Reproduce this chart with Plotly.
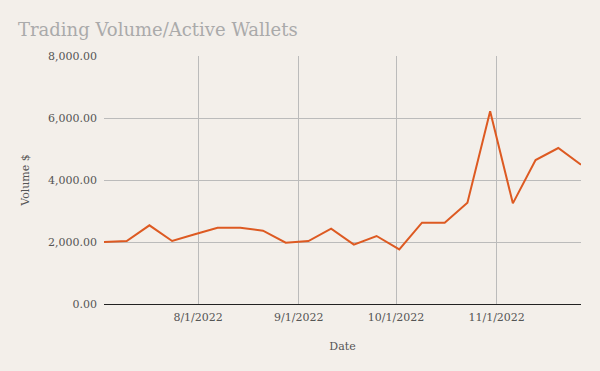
import plotly.graph_objects as go

dates = ["2022-07-03", "2022-07-10", "2022-07-17", "2022-07-24", "2022-07-31",
         "2022-08-07", "2022-08-14", "2022-08-21", "2022-08-28", "2022-09-04",
         "2022-09-11", "2022-09-18", "2022-09-25", "2022-10-02", "2022-10-09",
         "2022-10-16", "2022-10-23", "2022-10-30", "2022-11-06", "2022-11-13",
         "2022-11-20", "2022-11-27"]
volume = [2000, 2032, 2538, 2032, 2250, 2462, 2462, 2366, 1978, 2032,
          2430, 1914, 2194, 1763, 2624, 2624, 3269, 6215, 3247, 4645,
          5032, 4495]

FONT = "DejaVu Serif"
BG = "#f3efea"

fig = go.Figure()
fig.add_trace(go.Scatter(x=dates, y=volume, mode="lines",
                         line=dict(color="#dd5a22", width=2)))

fig.update_layout(
    width=600, height=371,
    paper_bgcolor=BG, plot_bgcolor=BG,
    margin=dict(l=104, r=19, t=56, b=67),
    showlegend=False,
    font=dict(family=FONT, color="#555555", size=11),
    title=dict(text="Trading Volume/Active Wallets", x=0.03, xanchor="left",
               y=0.92, yanchor="middle",
               font=dict(family=FONT, size=18, color="#aaaaaa")),
)
fig.update_xaxes(
    range=["2022-07-03", "2022-11-27"],
    tick0="2022-08-01", dtick="M1", tickformat="%-m/%-d/%Y",
    showgrid=True, gridcolor="#bbbbbb", gridwidth=1,
    showline=True, linecolor="#222222", linewidth=1,
    ticks="", zeroline=False, ticklabelstandoff=3,
    title=dict(text="Date", standoff=19, font=dict(size=11, color="#555555")),
    tickfont=dict(size=11, color="#555555"),
)
fig.update_yaxes(
    range=[0, 8000], dtick=2000, tickformat=",.2f",
    showgrid=True, gridcolor="#bbbbbb", gridwidth=1,
    zeroline=False, showline=False, ticks="", ticklabelstandoff=6,
    title=dict(text="Volume $", standoff=16, font=dict(size=11, color="#555555")),
    tickfont=dict(size=11, color="#555555"),
)

fig.write_html("out.html")
